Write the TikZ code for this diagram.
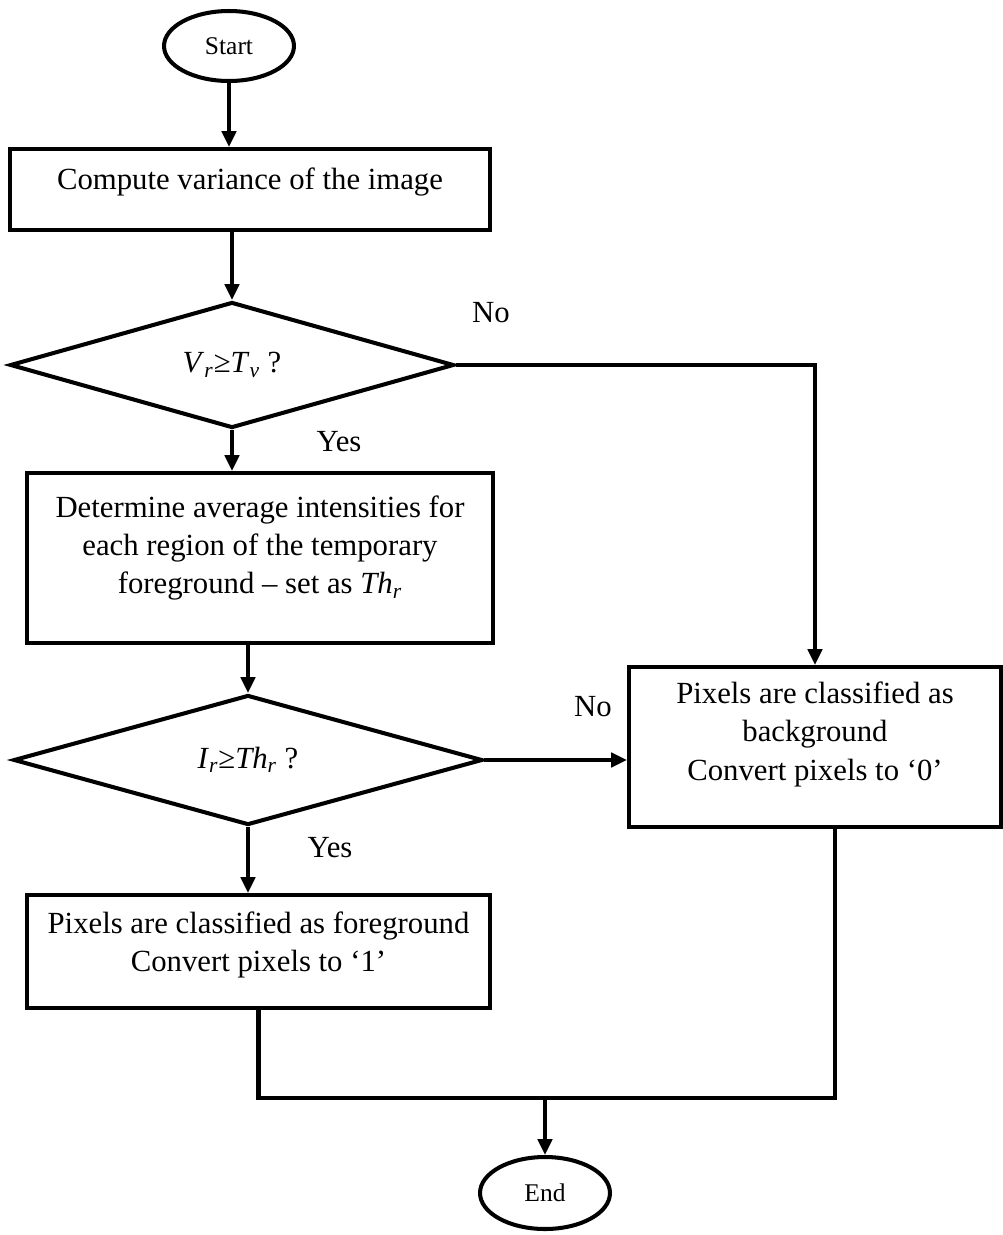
\documentclass[tikz,border=0pt]{standalone}
\usepackage{fontspec}
\setmainfont{Liberation Serif}
\usetikzlibrary{arrows.meta,shapes.geometric}

\begin{document}
\begin{tikzpicture}[x=0.02cm,y=-0.02cm,>={Triangle[length=9pt,width=8pt]},line width=2.3pt,font=\fontsize{17.5}{21.8}\selectfont]
  \tikzstyle{box}=[draw,align=center,inner sep=0pt]
  \tikzstyle{decision}=[draw,diamond,inner sep=0pt]
  \tikzstyle{terminal}=[draw,ellipse,inner sep=0pt,font=\fontsize{14.5}{16}\selectfont]
  \tikzstyle{answer}=[inner sep=0pt]
  \useasboundingbox (0,0) rectangle (1002,1235);
  \node[terminal,minimum width=2.6cm,minimum height=1.4cm] (start) at (229,46) {Start};
  \node[box,minimum width=9.6cm,minimum height=1.62cm,text depth=0.42cm] (var) at (250,189.5) {Compute variance of the image};
  \node[decision,minimum width=8.88cm,minimum height=2.52cm] (testv) at (232,365)
    {\textit{V}\textsubscript{\textit{r}}≥\textit{T}\textsubscript{\textit{v}} ?};
  \node[box,minimum width=9.32cm,minimum height=3.4cm,text depth=0.54cm] (avg) at (260,558)
    {Determine average intensities for\\each region of the temporary\\foreground – set as \textit{Th}\textsubscript{\textit{r}}};
  \node[decision,minimum width=9.38cm,minimum height=2.6cm] (testi) at (248,760)
    {\textit{I}\textsubscript{\textit{r}}≥\textit{Th}\textsubscript{\textit{r}} ?};
  \node[box,minimum width=9.26cm,minimum height=2.26cm,text depth=0.38cm] (fg) at (258.5,951.5)
    {Pixels are classified as foreground\\Convert pixels to ‘1’};
  \node[box,minimum width=7.44cm,minimum height=3.2cm,text depth=0.64cm] (bg) at (815,747)
    {Pixels are classified as\\background\\Convert pixels to ‘0’};
  \node[terminal,minimum width=2.6cm,minimum height=1.44cm] (end) at (545,1193) {End};
  \coordinate (merge) at (545,1098);
  \coordinate (rjoin) at (835,1098);
  % labels
  \node[answer] (no1) at (491,313) {No};
  \node[answer] (yes1) at (339,442) {Yes};
  \node[answer] (no2) at (593,707) {No};
  \node[answer] (yes2) at (330,848) {Yes};
  % connectors
  \draw[->] (start) -- (start |- var.north);
  \draw[->] (testv |- var.south) -- (testv);
  \draw[->] (testv.south) -- (testv.south |- avg.north);
  \draw[->] (testv.east) -| (bg);
  \draw[->] (testi |- avg.south) -- (testi);
  \draw[->] (testi.east) -- (testi.east -| bg.west);
  \draw[->] (testi.south) -- (testi.south |- fg.north);
  \draw (fg.south) |- (rjoin) -- (rjoin |- bg.south);
  \draw[->] (merge) -- (end);
\end{tikzpicture}
\end{document}
